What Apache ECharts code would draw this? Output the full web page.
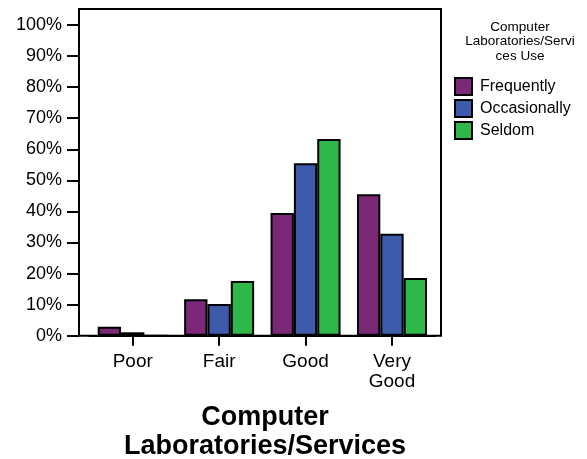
<!DOCTYPE html>
<html>
<head>
<meta charset="utf-8">
<script src="https://cdn.jsdelivr.net/npm/echarts@6/dist/echarts.min.js"></script>
<style>html,body{margin:0;padding:0;background:#fff}#c{width:587px;height:459px}</style>
</head>
<body>
<div id="c"></div>
<script>
var categories = ['Poor', 'Fair', 'Good', 'Very\nGood'];
var seriesNames = ['Frequently', 'Occasionally', 'Seldom'];
var frequently = [2.9, 11.7, 39.5, 45.5];
var occasionally = [1.1, 10.2, 55.5, 32.8];
var seldom = [0, 17.6, 63.3, 18.6];
var yTicks = [0, 10, 20, 30, 40, 50, 60, 70, 80, 90, 100];
var colors = ['#7B2877', '#3E5AAB', '#2EB84A'];
var FONT = 'Liberation Sans, Arial, Helvetica, sans-serif';

var chart = echarts.init(document.getElementById('c'), null, {renderer: 'canvas'});
var values = [frequently, occasionally, seldom];
var series = seriesNames.map(function (n, i) {
  return {
    name: n, type: 'bar', xAxisIndex: 0, yAxisIndex: 0,
    data: values[i],
    barGap: '0%', barCategoryGap: '19%',
    itemStyle: {color: colors[i], borderColor: '#000', borderWidth: 2},
    emphasis: {disabled: true},
    silent: true
  };
});
chart.setOption({
  animation: false,
  backgroundColor: '#fff',
  textStyle: {fontFamily: FONT},
  title: [
    {text: 'Computer\nLaboratories/Services', left: 260, top: 398, textAlign: 'center',
     textStyle: {fontFamily: FONT, fontSize: 27, fontWeight: 'bold', color: '#000', lineHeight: 29}},
    {text: 'Computer\nLaboratories/Servi\nces Use', left: 515, top: 15, textAlign: 'center',
     textStyle: {fontFamily: FONT, fontSize: 13.5, fontWeight: 'normal', color: '#000', lineHeight: 14.5}}
  ],
  legend: {
    orient: 'vertical', left: 454, top: 77, padding: 0,
    itemWidth: 17, itemHeight: 17, itemGap: 3, icon: 'rect',
    itemStyle: {borderColor: '#000', borderWidth: 2},
    textStyle: {fontFamily: FONT, fontSize: 16, color: '#000', padding: [0, 0, 0, 3]},
    data: seriesNames
  },
  grid: [
    {left: 89.5, right: 151.8, top: 25, bottom: 123.3, containLabel: false},
    {left: 79, right: 146, top: 9, bottom: 123.3, show: true, borderColor: '#000', borderWidth: 2, backgroundColor: 'transparent'}
  ],
  xAxis: [{
    type: 'category', gridIndex: 0, data: categories,
    axisLine: {show: true, lineStyle: {color: '#000', width: 2}},
    axisTick: {show: true, alignWithLabel: true, length: 10, lineStyle: {color: '#000', width: 2}},
    axisLabel: {fontFamily: FONT, fontSize: 19, color: '#000', margin: 16, lineHeight: 20, interval: 0}
  }],
  yAxis: [{
    type: 'value', gridIndex: 0, min: 0, max: 100, interval: 10, offset: 10.5,
    axisLine: {show: false},
    axisTick: {show: true, length: 12, lineStyle: {color: '#000', width: 2}},
    splitLine: {show: false},
    axisLabel: {fontFamily: FONT, fontSize: 18, color: '#000', margin: 17, formatter: '{value}%'}
  }],
  series: series
});
</script>
</body>
</html>
